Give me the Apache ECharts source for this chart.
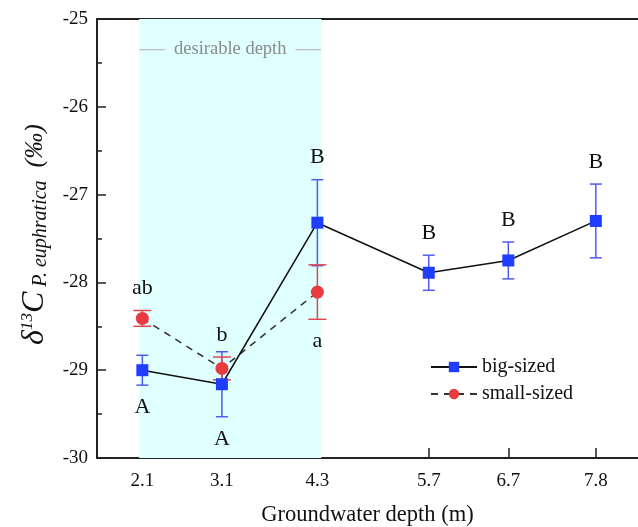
<!DOCTYPE html>
<html>
<head>
<meta charset="utf-8">
<script src="https://cdn.jsdelivr.net/npm/echarts@6/dist/echarts.min.js"></script>
<style>
  html, body { margin: 0; padding: 0; background: #fff; }
  #chart { width: 638px; height: 527px; }
</style>
</head>
<body>
<div id="chart"></div>
<script>
// groundwater depth (m) of each site
const depths = [2.1, 3.1, 4.3, 5.7, 6.7, 7.8];

// big-sized trees
const bigMean = [-29.0, -29.16, -27.32, -27.89, -27.75, -27.30];
const bigErr = [0.17, 0.37, 0.49, 0.20, 0.21, 0.42];
const bigLetters = ['A', 'A', 'B', 'B', 'B', 'B'];
const bigLetterSide = ['below', 'below', 'above', 'above', 'above', 'above'];

// small-sized trees (only first three sites)
const smallDepths = [2.1, 3.1, 4.3];
const smallMean = [-28.41, -28.98, -28.11];
const smallErr = [0.09, 0.13, 0.31];
const smallLetters = ['ab', 'b', 'a'];
const smallLetterSide = ['above', 'above', 'below'];

// shaded "desirable depth" band
const desirableRange = [2.06, 4.35];

const serif = '"Liberation Serif", "DejaVu Serif", serif';

function errorBars(name, xs, mean, err, letters, sides, color, capHalf, z) {
  return {
    type: 'custom',
    name: name,
    z: z,
    silent: true,
    data: xs.map((x, i) => [x, mean[i] - err[i], mean[i] + err[i], i]),
    encode: { x: 0, y: [1, 2] },
    renderItem: function (params, api) {
      const x = api.value(0);
      const lo = api.coord([x, api.value(1)]);
      const hi = api.coord([x, api.value(2)]);
      const i = api.value(3);
      const st = { stroke: color, lineWidth: 1.5 };
      const below = sides[i] === 'below';
      return {
        type: 'group',
        children: [
          { type: 'line', shape: { x1: lo[0], y1: lo[1], x2: hi[0], y2: hi[1] }, style: st },
          { type: 'line', shape: { x1: lo[0] - capHalf, y1: lo[1], x2: lo[0] + capHalf, y2: lo[1] }, style: st },
          { type: 'line', shape: { x1: hi[0] - capHalf, y1: hi[1], x2: hi[0] + capHalf, y2: hi[1] }, style: st },
          {
            type: 'text',
            style: {
              text: letters[i],
              x: lo[0],
              y: below ? lo[1] + 22 : hi[1] - 22,
              align: 'center',
              verticalAlign: 'middle',
              font: '22px ' + serif,
              fill: '#111'
            }
          }
        ]
      };
    }
  };
}

const chart = echarts.init(document.getElementById('chart'));
chart.setOption({
  animation: false,
  backgroundColor: '#fff',
  textStyle: { fontFamily: serif },
  grid: { left: 97, right: 0, top: 19, bottom: 69, containLabel: false, outerBoundsMode: 'none' },
  legend: {
    data: ['big-sized', 'small-sized'],
    orient: 'vertical',
    left: 425,
    top: 352,
    itemWidth: 46,
    itemHeight: 13,
    itemGap: 7,
    textStyle: { fontFamily: serif, fontSize: 20, color: '#111' }
  },
  xAxis: [
    {
      type: 'value',
      min: 1.53,
      max: 8.33,
      name: 'Groundwater depth (m)',
      nameLocation: 'middle',
      nameGap: 46,
      nameTextStyle: { fontFamily: serif, fontSize: 22.5, color: '#111' },
      axisLine: { lineStyle: { color: '#222', width: 2 } },
      axisTick: { inside: true, length: 10, lineStyle: { color: '#222', width: 1.5 }, customValues: depths },
      axisLabel: {
        customValues: depths,
        formatter: v => v.toFixed(1),
        fontFamily: serif, fontSize: 19, color: '#111', margin: 14
      },
      splitLine: { show: false }
    },
    {
      type: 'value',
      position: 'top',
      min: 1.53,
      max: 8.33,
      axisLine: { show: true, lineStyle: { color: '#222', width: 2 } },
      axisTick: { show: false },
      axisLabel: { show: false },
      splitLine: { show: false }
    }
  ],
  yAxis: {
    type: 'value',
    min: -30,
    max: -25,
    interval: 1,
    name: '{d|δ}{sup|13}{c|C}{sub| P. euphratica}{u|  (‰)}',
    nameLocation: 'middle',
    nameRotate: 90,
    nameGap: 46,
    nameTextStyle: {
      color: '#111',
      padding: [0, 0, 0, 8],
      rich: {
        d: { fontFamily: serif, fontSize: 32, fontStyle: 'italic', color: '#111' },
        sup: { fontFamily: serif, fontSize: 17, fontStyle: 'italic', color: '#111', verticalAlign: 'top' },
        c: { fontFamily: serif, fontSize: 32, fontStyle: 'italic', color: '#111' },
        sub: { fontFamily: serif, fontSize: 20, fontStyle: 'italic', color: '#111', verticalAlign: 'bottom' },
        u: { fontFamily: serif, fontSize: 26, fontStyle: 'italic', color: '#111' }
      }
    },
    axisLine: { show: true, lineStyle: { color: '#222', width: 2 } },
    axisTick: { inside: true, length: 9, lineStyle: { color: '#222', width: 1.5 } },
    minorTick: { show: true, splitNumber: 2, length: 5, lineStyle: { color: '#222', width: 1.5 } },
    axisLabel: { fontFamily: serif, fontSize: 19, color: '#111', margin: 9 },
    splitLine: { show: false }
  },
  series: [
    {
      type: 'line',
      name: 'band',
      data: [],
      z: 0,
      silent: true,
      markArea: {
        silent: true,
        itemStyle: { color: '#e0ffff' },
        label: {
          show: true,
          position: 'insideTop',
          distance: 18,
          formatter: '{dash|—}  desirable depth  {dash|—}',
          fontFamily: serif,
          fontSize: 18.5,
          color: '#8a8a8a',
          rich: {
            dash: { fontFamily: serif, fontSize: 25, color: '#bdbdbd' }
          }
        },
        data: [[{ xAxis: desirableRange[0] }, { xAxis: desirableRange[1] }]]
      }
    },
    errorBars('big-err', depths, bigMean, bigErr, bigLetters, bigLetterSide, '#4f5cf2', 6, 2),
    errorBars('small-err', smallDepths, smallMean, smallErr, smallLetters, smallLetterSide, '#e0474c', 9, 3),
    {
      type: 'line',
      name: 'small-sized',
      z: 4,
      data: smallDepths.map((x, i) => [x, smallMean[i]]),
      symbol: 'circle',
      symbolSize: 13,
      itemStyle: { color: '#e83a3f' },
      lineStyle: { color: '#333', width: 1.5, type: [7, 6] }
    },
    {
      type: 'line',
      name: 'big-sized',
      z: 5,
      data: depths.map((x, i) => [x, bigMean[i]]),
      symbol: 'rect',
      symbolSize: 12,
      itemStyle: { color: '#1f3dff' },
      lineStyle: { color: '#111', width: 1.5 }
    }
  ]
});
</script>
</body>
</html>
